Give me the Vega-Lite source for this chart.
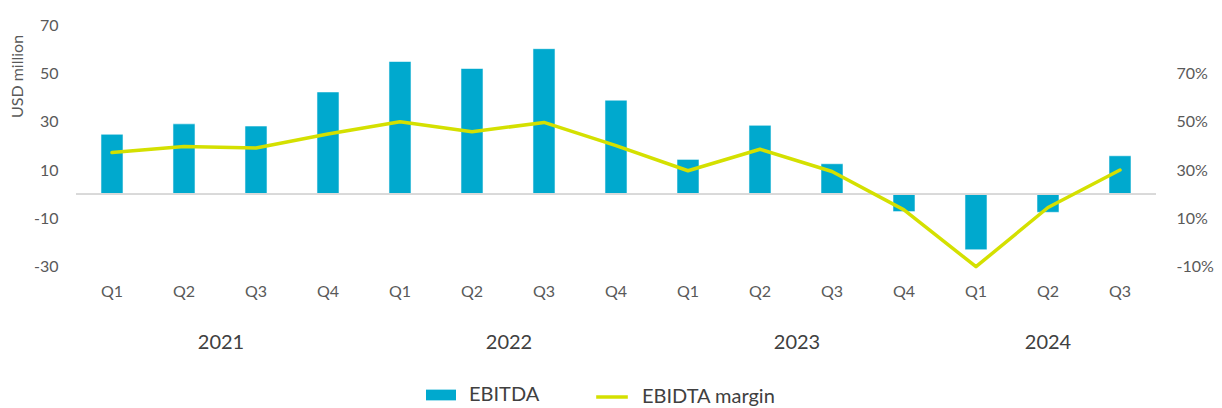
{
  "$schema": "https://vega.github.io/schema/vega-lite/v6.json",
  "width": 1080,
  "height": 241.7,
  "autosize": {"type": "none"},
  "padding": {"left": 76, "top": 25, "right": 66, "bottom": 141.3},
  "background": "white",
  "config": {
    "view": {"stroke": null},
    "font": "Lato",
    "axis": {"grid": false, "domain": false, "ticks": false, "labelFont": "Lato", "labelColor": "#595959", "labelFontSize": 16},
    "legend": {"labelFont": "Lato", "labelFontSize": 20, "labelColor": "#404040", "padding": 0, "labelOffset": 12}
  },
  "data": {
    "values": [
      {"key": "2021 Q1", "year": "2021", "quarter": "Q1", "ebitda": 24.8, "margin": 0.372},
      {"key": "2021 Q2", "year": "2021", "quarter": "Q2", "ebitda": 29.1, "margin": 0.397},
      {"key": "2021 Q3", "year": "2021", "quarter": "Q3", "ebitda": 28.2, "margin": 0.391},
      {"key": "2021 Q4", "year": "2021", "quarter": "Q4", "ebitda": 42.3, "margin": 0.449},
      {"key": "2022 Q1", "year": "2022", "quarter": "Q1", "ebitda": 54.9, "margin": 0.500},
      {"key": "2022 Q2", "year": "2022", "quarter": "Q2", "ebitda": 52.0, "margin": 0.458},
      {"key": "2022 Q3", "year": "2022", "quarter": "Q3", "ebitda": 60.2, "margin": 0.497},
      {"key": "2022 Q4", "year": "2022", "quarter": "Q4", "ebitda": 38.9, "margin": 0.401},
      {"key": "2023 Q1", "year": "2023", "quarter": "Q1", "ebitda": 14.4, "margin": 0.297},
      {"key": "2023 Q2", "year": "2023", "quarter": "Q2", "ebitda": 28.5, "margin": 0.386},
      {"key": "2023 Q3", "year": "2023", "quarter": "Q3", "ebitda": 12.6, "margin": 0.294},
      {"key": "2023 Q4", "year": "2023", "quarter": "Q4", "ebitda": -7.2, "margin": 0.135},
      {"key": "2024 Q1", "year": "2024", "quarter": "Q1", "ebitda": -23.0, "margin": -0.100},
      {"key": "2024 Q2", "year": "2024", "quarter": "Q2", "ebitda": -7.5, "margin": 0.145},
      {"key": "2024 Q3", "year": "2024", "quarter": "Q3", "ebitda": 15.9, "margin": 0.300}
    ]
  },
  "layer": [
    {
      "layer": [
        {
          "mark": {"type": "bar", "stroke": "#ffffff", "strokeWidth": 0.8, "strokeOpacity": 0.7},
          "encoding": {
            "x": {"field": "key", "type": "nominal", "sort": null, "scale": {"paddingInner": 0.694, "paddingOuter": 0.347},
                  "axis": {"orient": "bottom", "title": null, "labelExpr": "split(datum.value, ' ')[1]", "labelPadding": 17, "labelAngle": 0}},
            "y": {"field": "ebitda", "type": "quantitative", "scale": {"domain": [-30, 70], "nice": false, "zero": false},
                  "axis": {"orient": "left", "values": [-30, -10, 10, 30, 50, 70], "labelExpr": "(datum.value < 0 ? '-' : '') + format(abs(datum.value), 'd')",
                           "labelPadding": 18, "labelFlush": false, "labelOverlap": false,
                           "title": "USD million", "titleFont": "Lato", "titleFontSize": 16, "titleFontWeight": "normal", "titleColor": "#595959",
                           "titleX": -59, "titleY": 51, "titleAngle": -90, "titleAlign": "center", "titleBaseline": "middle"}},
            "fill": {"datum": "EBITDA", "type": "nominal",
                     "scale": {"domain": ["EBITDA"], "range": ["#00A9CE"]},
                     "legend": {"orient": "none", "legendX": 349, "legendY": 354, "direction": "horizontal", "title": null,
                                "symbolSize": 1000, "symbolType": "M-0.95,-0.34H0.95V0.34H-0.95Z", "symbolStrokeWidth": 0, "symbolOpacity": 1}}
          }
        },
        {
          "mark": {"type": "rule", "color": "#d9d9d9", "strokeWidth": 1.5},
          "encoding": {"y": {"datum": 0, "type": "quantitative"}}
        },
        {
          "transform": [{"filter": "datum.quarter === 'Q2' && datum.year !== '2024'"}],
          "mark": {"type": "text", "dx": 37, "dy": 76, "fontSize": 20, "color": "#404040", "baseline": "middle", "align": "center"},
          "encoding": {
            "x": {"field": "key", "type": "nominal", "sort": null,
                  "axis": {"orient": "bottom", "title": null, "labelExpr": "split(datum.value, ' ')[1]", "labelPadding": 17, "labelAngle": 0}},
            "y": {"datum": -30, "type": "quantitative"},
            "text": {"field": "year"}
          }
        },
        {
          "transform": [{"filter": "datum.quarter === 'Q2' && datum.year === '2024'"}],
          "mark": {"type": "text", "dy": 76, "fontSize": 20, "color": "#404040", "baseline": "middle", "align": "center"},
          "encoding": {
            "x": {"field": "key", "type": "nominal", "sort": null,
                  "axis": {"orient": "bottom", "title": null, "labelExpr": "split(datum.value, ' ')[1]", "labelPadding": 17, "labelAngle": 0}},
            "y": {"datum": -30, "type": "quantitative"},
            "text": {"field": "year"}
          }
        }
      ]
    },
    {
      "mark": {"type": "line", "strokeWidth": 3.5, "strokeCap": "round", "strokeJoin": "round"},
      "encoding": {
        "x": {"field": "key", "type": "nominal", "sort": null,
              "axis": {"orient": "bottom", "title": null, "labelExpr": "split(datum.value, ' ')[1]", "labelPadding": 17, "labelAngle": 0}},
        "y": {"field": "margin", "type": "quantitative", "scale": {"domain": [-0.1, 0.9], "nice": false, "zero": false},
              "axis": {"orient": "right", "values": [-0.1, 0.1, 0.3, 0.5, 0.7], "labelExpr": "(datum.value < 0 ? '-' : '') + format(abs(datum.value), '.0%')",
                       "labelPadding": 20, "labelFlush": false, "labelOverlap": false, "title": null}},
        "stroke": {"datum": "EBIDTA margin", "type": "nominal",
                   "scale": {"domain": ["EBIDTA margin"], "range": ["#D4E000"]},
                   "legend": {"orient": "none", "legendX": 518, "legendY": 354, "direction": "horizontal", "title": null,
                              "symbolSize": 1000, "symbolType": "stroke", "symbolStrokeWidth": 3.5, "symbolOpacity": 1}}
      }
    }
  ],
  "resolve": {"scale": {"y": "independent"}}
}
